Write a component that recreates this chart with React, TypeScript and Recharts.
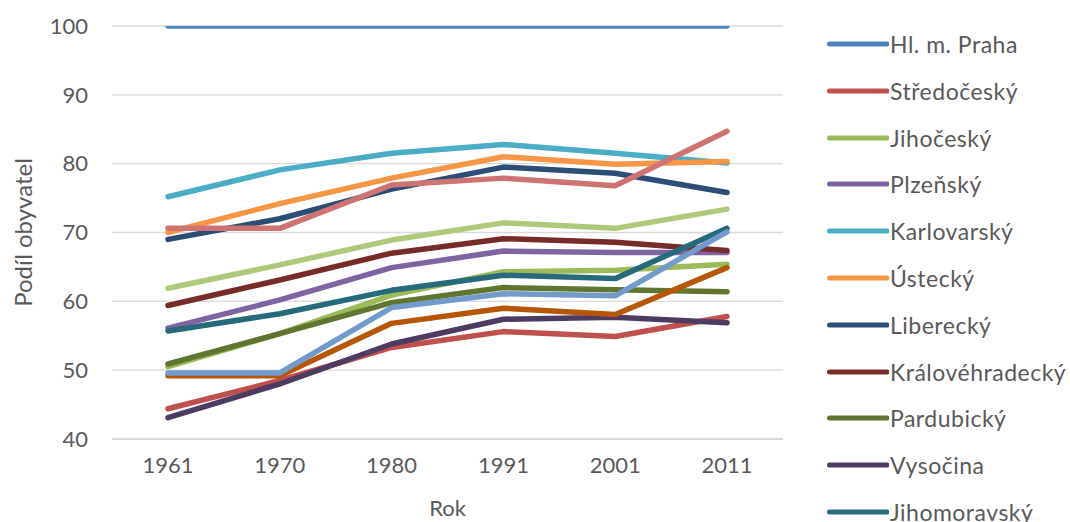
import React from 'react';
import { LineChart, Line, XAxis, YAxis, CartesianGrid } from 'recharts';

const years = ['1961', '1970', '1980', '1991', '2001', '2011'];
const yTicks = [40, 50, 60, 70, 80, 90, 100];

const praha = [100, 100, 100, 100, 100, 100];
const stredocesky = [44.4, 48.5, 53.3, 55.6, 54.9, 57.8];
const jihocesky = [50.5, 55.3, 60.9, 64.3, 64.5, 65.4];
const plzensky = [56.1, 60.2, 64.9, 67.3, 67.1, 67.1];
const karlovarsky = [75.2, 79.1, 81.5, 82.8, 81.5, 80.1];
const ustecky = [70.0, 74.2, 77.9, 81.0, 79.9, 80.3];
const liberecky = [69.0, 72.0, 76.3, 79.5, 78.6, 75.8];
const kralovehradecky = [59.4, 63.1, 67.0, 69.1, 68.6, 67.4];
const pardubicky = [50.9, 55.3, 59.8, 62.0, 61.7, 61.4];
const vysocina = [43.1, 48.0, 53.8, 57.4, 57.7, 56.9];
const jihomoravsky = [55.7, 58.2, 61.6, 63.8, 63.3, 70.6];
const olomoucky = [49.2, 49.2, 56.8, 59.0, 58.1, 64.9];
const zlinsky = [49.6, 49.6, 59.1, 61.1, 60.8, 70.1];
const moravskoslezsky = [70.6, 70.6, 76.9, 77.9, 76.8, 84.7];
const ceskaRepublika = [61.9, 65.3, 68.9, 71.4, 70.6, 73.4];

const series = [
  { key: 's1', name: 'Hl. m. Praha', values: praha, color: '#4F81BD' },
  { key: 's2', name: 'Středočeský', values: stredocesky, color: '#C0504D' },
  { key: 's3', name: 'Jihočeský', values: jihocesky, color: '#9BBB59' },
  { key: 's4', name: 'Plzeňský', values: plzensky, color: '#8064A2' },
  { key: 's5', name: 'Karlovarský', values: karlovarsky, color: '#4BACC6' },
  { key: 's6', name: 'Ústecký', values: ustecky, color: '#F79646' },
  { key: 's7', name: 'Liberecký', values: liberecky, color: '#2C4D75' },
  { key: 's8', name: 'Královéhradecký', values: kralovehradecky, color: '#772C2A' },
  { key: 's9', name: 'Pardubický', values: pardubicky, color: '#5F7530' },
  { key: 's10', name: 'Vysočina', values: vysocina, color: '#4D3B62' },
  { key: 's11', name: 'Jihomoravský', values: jihomoravsky, color: '#276A7C' },
  { key: 's12', name: 'Olomoucký', values: olomoucky, color: '#B65708' },
  { key: 's13', name: 'Zlínský', values: zlinsky, color: '#729ACA' },
  { key: 's14', name: 'Moravskoslezský', values: moravskoslezsky, color: '#CD7371' },
  { key: 's15', name: 'Česká republika', values: ceskaRepublika, color: '#AFC97A' },
];

const data = years.map((year, i) => {
  const row: Record<string, any> = { year };
  series.forEach((s) => {
    row[s.key] = s.values[i];
  });
  return row;
});

const TEXT = '#595959';
const FONT = 'Lato, "Open Sans", sans-serif';
const LEGEND_TOP = 44;
const LEGEND_STEP = 46.8;
const CHART_H = 522;

const XTick = (props: any) => {
  const { x, y, payload } = props;
  return (
    <text x={x} y={y + 28} textAnchor="middle" fill={TEXT} fontSize={22} fontFamily={FONT}>
      {payload.value}
    </text>
  );
};

const RokLabel = (props: any) => {
  const vb = props.viewBox || {};
  const cx = vb.x + vb.width / 2;
  return (
    <text x={cx} y={516} textAnchor="middle" fill={TEXT} fontSize={22} fontFamily={FONT}>
      Rok
    </text>
  );
};

const YLabel = (props: any) => {
  const vb = props.viewBox || {};
  const cy = vb.y + vb.height / 2;
  return (
    <text
      x={0}
      y={0}
      transform={`translate(32, ${cy}) rotate(-90)`}
      textAnchor="middle"
      fill={TEXT}
      fontSize={24}
      fontFamily={FONT}
    >
      Podíl obyvatel
    </text>
  );
};

export default function App() {
  const legendItems = series.filter((_, i) => LEGEND_TOP + i * LEGEND_STEP - 10 < CHART_H);
  return (
    <div
      style={{
        position: 'absolute',
        left: 0,
        top: 0,
        width: 1070,
        height: CHART_H,
        overflow: 'hidden',
        background: '#fff',
        fontFamily: FONT,
      }}
    >
      <LineChart width={1070} height={CHART_H} data={data} margin={{ top: 26, right: 287, bottom: 0, left: 0 }}>
        <CartesianGrid vertical={false} stroke="#D9D9D9" strokeWidth={1.3} />
        <XAxis
          dataKey="year"
          height={83}
          interval={0}
          padding={{ left: 56, right: 56 }}
          axisLine={{ stroke: '#D9D9D9', strokeWidth: 1.3 }}
          tickLine={false}
          tickMargin={0}
          tick={<XTick />}
          label={{ content: RokLabel }}
        />
        <YAxis
          width={112}
          domain={[40, 100]}
          ticks={yTicks}
          allowDataOverflow
          interval={0}
          axisLine={false}
          tickLine={false}
          tickMargin={18}
          tick={{ fill: TEXT, fontSize: 22, fontFamily: FONT }}
          label={{ content: YLabel }}
        />
        {series.map((s) => (
          <Line
            key={s.key}
            type="linear"
            dataKey={s.key}
            name={s.name}
            stroke={s.color}
            strokeWidth={5.5}
            strokeLinecap="round"
            strokeLinejoin="round"
            dot={false}
            activeDot={false}
            isAnimationActive={false}
          />
        ))}
      </LineChart>
      <div style={{ position: 'absolute', left: 825, top: 0, width: 245, height: CHART_H }}>
        {legendItems.map((s, i) => (
          <div
            key={s.key}
            style={{
              position: 'absolute',
              left: 0,
              top: LEGEND_TOP + i * LEGEND_STEP - 15,
              height: 30,
              display: 'flex',
              alignItems: 'center',
              whiteSpace: 'nowrap',
            }}
          >
            <svg width={64} height={10} style={{ display: 'block' }}>
              <line x1={4.5} y1={5} x2={62} y2={5} stroke={s.color} strokeWidth={5} strokeLinecap="round" />
            </svg>
            <span
              style={{
                color: TEXT,
                fontSize: 23,
                letterSpacing: 0.5,
                fontFamily: FONT,
                lineHeight: '30px',
                marginLeft: 1,
              }}
            >
              {s.name}
            </span>
          </div>
        ))}
      </div>
    </div>
  );
}
